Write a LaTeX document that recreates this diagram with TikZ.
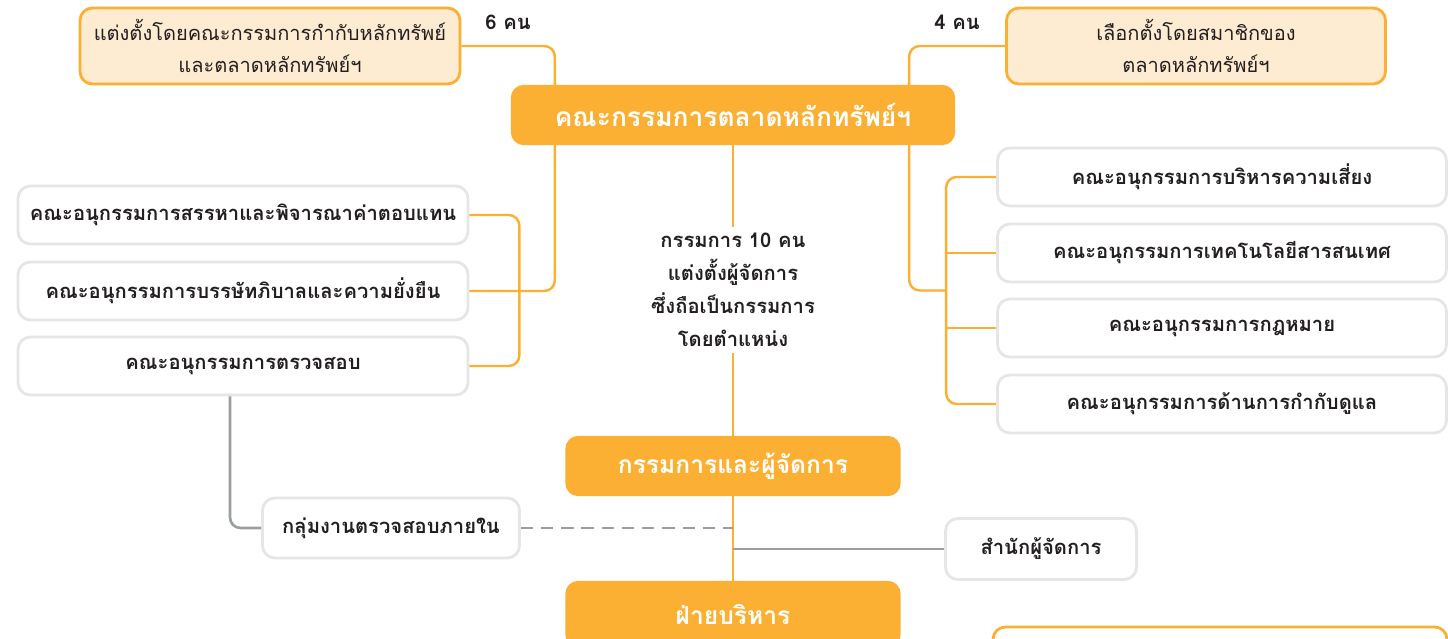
\documentclass[tikz,border=0pt]{standalone}
\usepackage{fontspec}
\setmainfont{Loma}[Script=Thai]
\usepackage{tikz}
\usetikzlibrary{calc}

\definecolor{setorange}{RGB}{251,176,52}
\definecolor{setpeach}{RGB}{253,235,210}
\definecolor{boxgray}{RGB}{230,230,230}
\definecolor{linegray}{RGB}{154,158,163}
\definecolor{textdark}{RGB}{35,31,32}

\begin{document}
\begin{tikzpicture}[x=0.02cm,y=-0.02cm,thick,
   main node/.style={draw=setorange,fill=setorange,rounded corners=7pt,text=white,
     font=\bfseries\fontsize{14}{18}\selectfont,minimum height=1.18cm},
   sub node/.style={draw=boxgray,line width=1.6pt,fill=white,rounded corners=7pt,
     text=textdark,font=\bfseries\fontsize{11.5}{15}\selectfont,minimum height=1.16cm},
   pick node/.style={draw=setorange,line width=1.6pt,fill=setpeach,rounded corners=7pt,
     text=textdark,align=center,font=\fontsize{11.4}{18}\selectfont,minimum height=1.52cm}]

\tikzstyle {edge} = [draw=setorange, line width=1.4pt, rounded corners=6pt];
\tikzstyle {gray edge} = [draw=linegray, line width=1.5pt, rounded corners=6pt];
\tikzstyle {count} = [text=textdark, font=\bfseries\fontsize{11.5}{15}\selectfont];

\useasboundingbox (0,0) rectangle (1448,639);

% board and who picks it
\node[pick node, minimum width=7.6cm] (byreg) at (270,46)
  {แต่งตั้งโดยคณะกรรมการกำกับหลักทรัพย์\\และตลาดหลักทรัพย์ฯ};
\node[pick node, minimum width=7.58cm] (bymem) at (1196,46)
  {เลือกตั้งโดยสมาชิกของ\\ตลาดหลักทรัพย์ฯ};
\node[count] (six) at (508,22) {6 คน};
\node[count] (four) at (957,22) {4 คน};
\node[main node, minimum width=8.86cm, font=\bfseries\fontsize{15}{18}\selectfont] (board) at (733,115) {คณะกรรมการตลาดหลักทรัพย์ฯ};

% sub committees, left
\node[sub node, minimum width=9cm] (nom) at (243,215) {คณะอนุกรรมการสรรหาและพิจารณาค่าตอบแทน};
\node[sub node, minimum width=9cm] (gov) at (243,291) {คณะอนุกรรมการบรรษัทภิบาลและความยั่งยืน};
\node[sub node, minimum width=9cm] (audit) at (243,366) {คณะอนุกรรมการตรวจสอบ};

% sub committees, right
\node[sub node, minimum width=8.98cm] (risk) at (1222,177) {คณะอนุกรรมการบริหารความเสี่ยง};
\node[sub node, minimum width=8.98cm] (it) at (1222,253) {คณะอนุกรรมการเทคโนโลยีสารสนเทศ};
\node[sub node, minimum width=8.98cm] (law) at (1222,328) {คณะอนุกรรมการกฎหมาย};
\node[sub node, minimum width=8.98cm] (reg) at (1222,404) {คณะอนุกรรมการด้านการกำกับดูแล};

\node[count, align=center, font=\bfseries\fontsize{11.5}{18.7}\selectfont] (note) at (733,290)
  {กรรมการ 10 คน\\แต่งตั้งผู้จัดการ\\ซึ่งถือเป็นกรรมการ\\โดยตำแหน่ง};

\node[main node, minimum width=6.68cm] (md) at (733,466) {กรรมการและผู้จัดการ};
\node[main node, minimum width=6.68cm, minimum height=1.3cm] (exe) at (733,614) {ฝ่ายบริหาร};
\node[sub node, minimum width=5.14cm, minimum height=1.2cm] (ia) at (391,528) {กลุ่มงานตรวจสอบภายใน};
\node[sub node, minimum width=3.82cm, minimum height=1.22cm] (office) at (1041,549) {สำนักผู้จัดการ};
\node[sub node, draw=setorange, minimum width=9.08cm, minimum height=1.2cm] (next) at (1220,657) {};

%\draw [->] (board) -- (md);

\path[edge] (byreg.east) -| ([xshift=0.88cm]board.north west);
\path[edge] (bymem.west) -| ([xshift=-0.92cm]board.north east);
\path[edge] ([xshift=0.88cm]board.south west) |- (gov.east);
\path[edge] (nom.east) -| ([xshift=1cm]audit.east) -- (audit.east);
\path[edge] ([xshift=-0.92cm]board.south east) |- ($(it.west)!0.5!(law.west)+(-1cm,0)$);
\path[edge] (risk.west) -| ([xshift=-1cm]reg.west) -- (reg.west);
\path[edge] (it.west) -- ++(-1cm,0);
\path[edge] (law.west) -- ++(-1cm,0);
\path[edge] (board.south) -- (note.north);
\path[edge] (note.south) -- (md.north);
\path[edge] (md.south) -- (exe.north);
\path[gray edge] ([xshift=-0.26cm]audit.south) |- (ia.west);
\path[gray edge, dash pattern=on 7pt off 4.5pt] (ia.east) -- (ia.east -| md.south);
\path[gray edge] (office.west) -- (office.west -| md.south);

\end{tikzpicture}
\end{document}
